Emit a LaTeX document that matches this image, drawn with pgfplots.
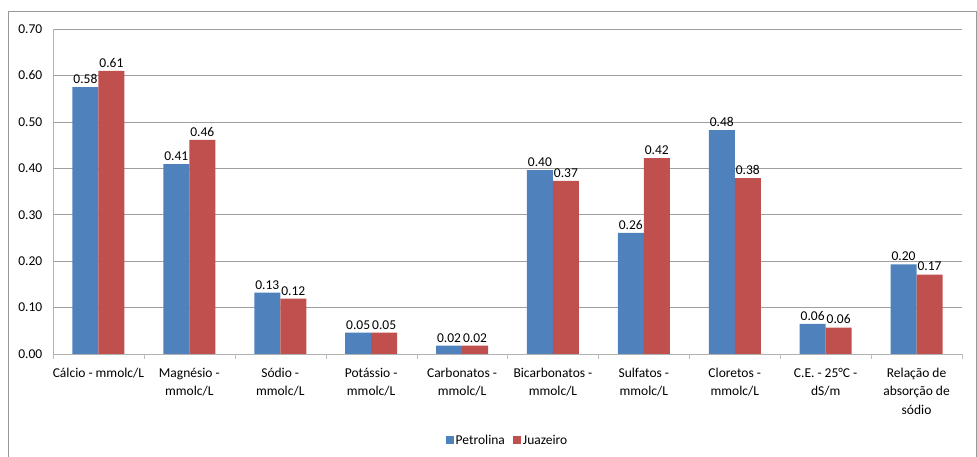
\documentclass[border=0pt]{standalone}
\usepackage{pgfplots}
\pgfplotsset{compat=1.18}
\usepackage{fontspec}
\setmainfont{Carlito}
\definecolor{cblue}{HTML}{4F81BD}
\definecolor{cred}{HTML}{C0504D}
\begin{document}
\begin{tikzpicture}
\begin{axis}[
  at={(0pt,0pt)}, anchor=south west,
  width=909pt, height=325pt, scale only axis,
  ybar=0pt, bar width=26pt,
  xmin=-0.5, xmax=9.5, ymin=0, ymax=0.7,
  ytick={0,0.1,...,0.71},
  yticklabel style={/pgf/number format/fixed, /pgf/number format/fixed zerofill, /pgf/number format/precision=2, font=\fontsize{13.5}{16}\selectfont, xshift=-3pt},
  /pgf/number format/assume math mode=true,
  ymajorgrids, grid style={gray!75, line width=0.6pt},
  axis x line*=bottom, axis y line*=left,
  axis line style={gray!60, line width=0.6pt},
  y axis line style={-},
  x axis line style={-},
  xtick={0,...,9},
  xticklabels={{Cálcio - mmolc/L},{Magnésio -\\mmolc/L},{Sódio -\\mmolc/L},{Potássio -\\mmolc/L},{Carbonatos -\\mmolc/L},{Bicarbonatos -\\mmolc/L},{Sulfatos -\\mmolc/L},{Cloretos -\\mmolc/L},{C.E. - 25°C -\\dS/m},{Relação de\\absorção de\\sódio}},
  xticklabel style={align=center, font=\fontsize{13.5}{18.5}\selectfont, yshift=-6pt},
  major x tick style={draw=none},
  minor xtick={-0.5,0.5,...,9.5},
  minor x tick style={gray!50},
  minor tick length=5pt,
  xtick pos=bottom, ytick style={draw=none},
  tick align=outside,
  nodes near coords,
  point meta=explicit symbolic,
  every node near coord/.append style={font=\fontsize{13.5}{16}\selectfont, black, yshift=0pt},
  legend style={at={(0.5,-0.265)}, anchor=center, draw=none, legend columns=2,
    font=\fontsize{13.5}{16}\selectfont, /tikz/every even column/.append style={column sep=6pt}},
  legend image code/.code={\fill[#1] (0pt,-4pt) rectangle (8pt,4pt);},
]
\addplot[fill=cblue, draw=none] coordinates {
 (0,0.575) [0.58] (1,0.409) [0.41] (2,0.132) [0.13] (3,0.046) [0.05] (4,0.018) [0.02]
 (5,0.396) [0.40] (6,0.261) [0.26] (7,0.482) [0.48] (8,0.065) [0.06] (9,0.193) [0.20]};
\addplot[fill=cred, draw=none] coordinates {
 (0,0.610) [0.61] (1,0.461) [0.46] (2,0.119) [0.12] (3,0.046) [0.05] (4,0.018) [0.02]
 (5,0.373) [0.37] (6,0.422) [0.42] (7,0.379) [0.38] (8,0.057) [0.06] (9,0.171) [0.17]};
\legend{Petrolina, Juazeiro}
\end{axis}
\draw[gray!80] (-44.5pt,-103pt) -- (-44.5pt,342.5pt) -- (923pt,342.5pt) -- (923pt,-103pt);
\pgfresetboundingbox
\useasboundingbox (-53pt,-103pt) rectangle (924pt,354pt);
\end{tikzpicture}
\end{document}
